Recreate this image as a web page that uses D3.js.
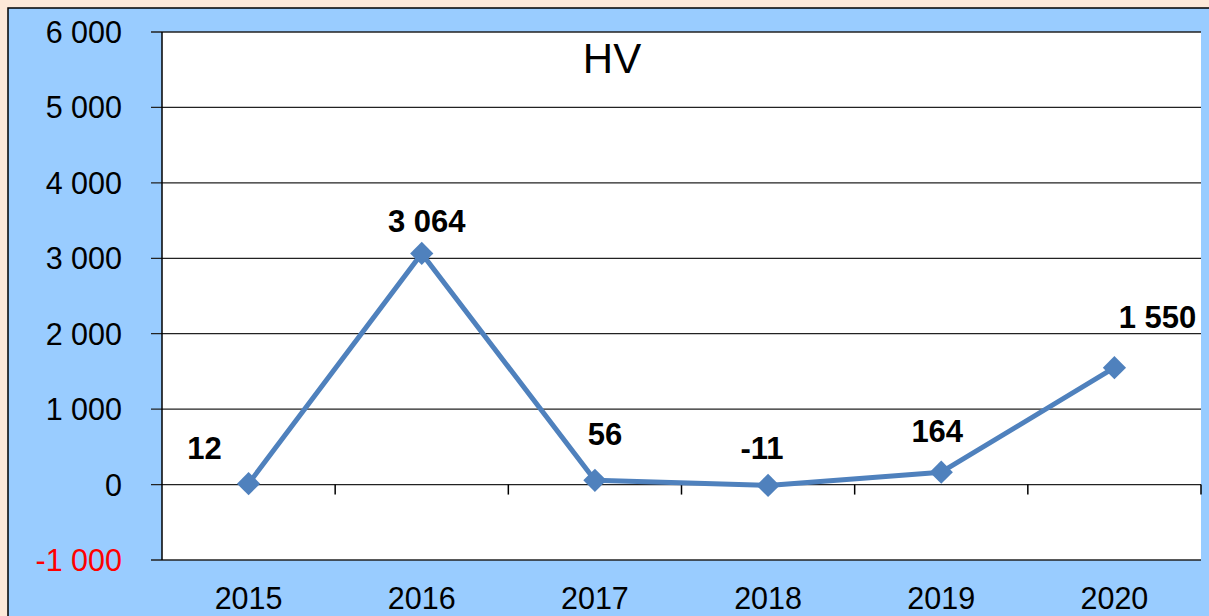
<!DOCTYPE html>
<html>
<head>
<meta charset="utf-8">
<script src="https://cdn.jsdelivr.net/npm/d3@7"></script>
<style>
  body { margin: 0; background: #fde9d9; }
  svg { display: block; font-family: "Liberation Sans", Arial, sans-serif; }
</style>
</head>
<body>
<svg id="chart"></svg>
<script>
// data
const years = ["2015", "2016", "2017", "2018", "2019", "2020"];
const values = [12, 3064, 56, -11, 164, 1550];
const yTicks = [-1000, 0, 1000, 2000, 3000, 4000, 5000, 6000];
// label nudges (px) relative to each point
const labelDx = [-44, 5, 10, -6, -4, 43];
const labelDy = [-25, -21, -35, -26, -30, -40];

const WIDTH = 1209;
const HEIGHT = 616;
const plot = { left: 162, right: 1201, top: 32, bottom: 560 };

const svg = d3.select("#chart")
  .attr("width", WIDTH)
  .attr("height", HEIGHT);

// background frame
svg.append("rect")
  .attr("x", 0).attr("y", 0)
  .attr("width", WIDTH).attr("height", HEIGHT)
  .attr("fill", "#fde9d9");
svg.append("rect")
  .attr("x", 8).attr("y", 8)
  .attr("width", WIDTH).attr("height", HEIGHT)
  .attr("fill", "#99ccff")
  .attr("stroke", "#000")
  .attr("stroke-width", 1.5);

svg.append("rect")
  .attr("x", plot.left).attr("y", plot.top)
  .attr("width", plot.right - plot.left)
  .attr("height", plot.bottom - plot.top)
  .attr("fill", "#fff");

const x = d3.scaleBand()
  .domain(years)
  .range([plot.left, plot.right])
  .padding(0);

const y = d3.scaleLinear()
  .domain([-1000, 6000])
  .range([plot.bottom, plot.top]);

// "1 550", plain hyphen for negatives
const fmt = v => (v < 0 ? "-" : "") + d3.format(",")(Math.abs(v)).replace(/,/g, " ");

// gridlines
svg.append("g")
  .selectAll("line")
  .data(yTicks)
  .join("line")
  .attr("x1", plot.left - 11)
  .attr("x2", plot.right)
  .attr("y1", d => y(d))
  .attr("y2", d => y(d))
  .attr("stroke", "#222")
  .attr("stroke-width", 1.3);

// y axis line
svg.append("line")
  .attr("x1", plot.left).attr("x2", plot.left)
  .attr("y1", plot.top).attr("y2", plot.bottom)
  .attr("stroke", "#000")
  .attr("stroke-width", 1.5);

// y tick labels
svg.append("g")
  .selectAll("text")
  .data(yTicks)
  .join("text")
  .attr("x", 122)
  .attr("y", d => y(d) + 11)
  .attr("text-anchor", "end")
  .style("font-size", "30.5px")
  .style("fill", d => d < 0 ? "#ff0000" : "#000")
  .text(fmt);

// category boundary ticks on the zero line
const bounds = years.map(d => x(d)).concat([plot.right]).slice(1);
svg.append("g")
  .selectAll("line")
  .data(bounds)
  .join("line")
  .attr("x1", d => d).attr("x2", d => d)
  .attr("y1", y(0)).attr("y2", y(0) + 10)
  .attr("stroke", "#000")
  .attr("stroke-width", 1.5);

// year labels
svg.append("g")
  .selectAll("text")
  .data(years)
  .join("text")
  .attr("x", d => x(d) + x.bandwidth() / 2)
  .attr("y", 609)
  .attr("text-anchor", "middle")
  .style("font-size", "30.5px")
  .style("fill", "#000")
  .text(d => d);

// title
svg.append("text")
  .attr("x", 612)
  .attr("y", 73)
  .attr("text-anchor", "middle")
  .style("font-size", "42px")
  .text("HV");

// line
const pts = years.map((d, i) => ({ year: d, v: values[i], i }));
const line = d3.line()
  .x(d => x(d.year) + x.bandwidth() / 2)
  .y(d => y(d.v));

svg.append("path")
  .datum(pts)
  .attr("d", line)
  .attr("fill", "none")
  .attr("stroke", "#4f81bd")
  .attr("stroke-width", 5)
  .attr("stroke-linejoin", "round");

svg.append("g")
  .selectAll("path")
  .data(pts)
  .join("path")
  .attr("transform", d => `translate(${x(d.year) + x.bandwidth() / 2},${y(d.v)}) rotate(45)`)
  .attr("d", d3.symbol(d3.symbolSquare, 270))
  .attr("fill", "#4f81bd");

// data labels
svg.append("g")
  .selectAll("text")
  .data(pts)
  .join("text")
  .attr("x", d => x(d.year) + x.bandwidth() / 2 + labelDx[d.i])
  .attr("y", d => y(d.v) + labelDy[d.i])
  .attr("text-anchor", "middle")
  .style("font-size", "31px")
  .style("font-weight", "bold")
  .style("fill", "#000")
  .text(d => fmt(d.v));
</script>
</body>
</html>
